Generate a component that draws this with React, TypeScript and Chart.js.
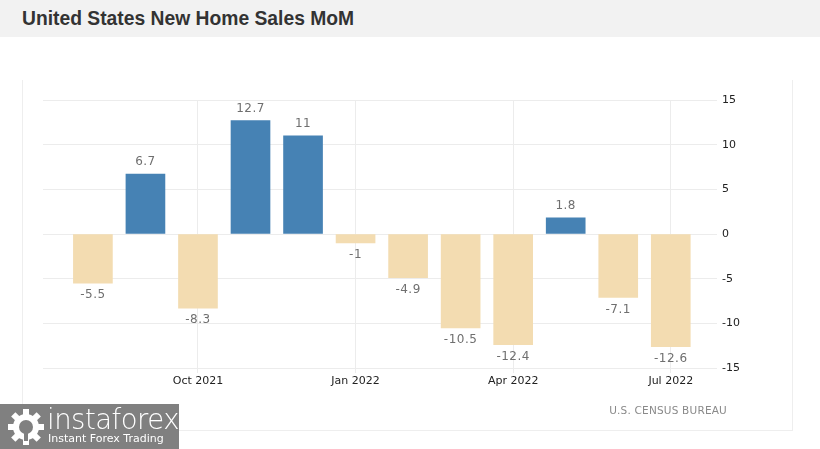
import React, { useEffect, useRef } from "react";
import { Chart, registerables } from "chart.js";
Chart.register(...registerables);

const months = ["Aug 2021", "Sep 2021", "Oct 2021", "Nov 2021", "Dec 2021", "Jan 2022", "Feb 2022", "Mar 2022", "Apr 2022", "May 2022", "Jun 2022", "Jul 2022"];
const values = [-5.5, 6.7, -8.3, 12.7, 11, -1, -4.9, -10.5, -12.4, 1.8, -7.1, -12.6];
const xTickLabels = ["Oct 2021", "Jan 2022", "Apr 2022", "Jul 2022"];
const yMin = -15;
const yMax = 15;
const yStep = 5;

const POS = "#4682B4";
const NEG = "#F3DCB1";

const valueLabels = {
  id: "valueLabels",
  afterDatasetsDraw(chart: any) {
    const ctx = chart.ctx;
    const meta = chart.getDatasetMeta(0);
    ctx.save();
    ctx.font = "12px 'DejaVu Sans'";
    ctx.fillStyle = "#6f6f6f";
    ctx.textAlign = "center";
    ctx.textBaseline = "middle";
    try { (ctx as any).letterSpacing = "0.5px"; } catch (e) {}
    meta.data.forEach((bar: any, i: number) => {
      const v = values[i];
      const y = v >= 0 ? bar.y - 12 : bar.y + 12;
      ctx.fillText(String(v), bar.x, y);
    });
    ctx.restore();
  },
};

function Gear() {
  const teeth = [];
  for (let i = 0; i < 8; i++) {
    teeth.push(<rect key={i} x={17} y={2} width={6} height={8} fill="#fff" transform={`rotate(${i * 45} 20 20)`} />);
  }
  return (
    <svg width={40} height={40} viewBox="0 0 40 40">
      {teeth}
      <circle cx={20} cy={20} r={13} fill="#fff" />
      <circle cx={20} cy={20} r={7} fill="#808080" />
      <rect x={18} y={20} width={4} height={14} fill="#808080" />
    </svg>
  );
}

export default function App() {
  const ref = useRef<HTMLCanvasElement>(null);
  useEffect(() => {
    document.body.style.margin = "0";
    const chart = new Chart(ref.current!, {
      type: "bar",
      data: {
        datasets: [
          {
            data: values.map((v, i) => ({ x: i, y: v })),
            backgroundColor: values.map((v) => (v >= 0 ? POS : NEG)),
            barThickness: 39,
          } as any,
        ],
      },
      options: {
        responsive: false,
        animation: false,
        devicePixelRatio: 1,
        layout: { padding: { left: 43, top: 100, right: 63, bottom: 61 } },
        plugins: { legend: { display: false }, tooltip: { enabled: false } },
        scales: {
          x: {
            type: "linear",
            min: -0.95,
            max: 11.88,
            offset: false,
            afterBuildTicks: (axis: any) => {
              axis.ticks = xTickLabels.map((l) => ({ value: months.indexOf(l) }));
            },
            afterFit: (axis: any) => {
              axis.height = 20;
            },
            grid: { color: "#ececec", tickLength: 5, drawTicks: true, offset: false },
            border: { display: false },
            ticks: {
              autoSkip: false,
              maxRotation: 0,
              padding: 2,
              color: "#222",
              font: { family: "'DejaVu Sans'", size: 11 },
              callback: (v: any) => months[Number(v)],
            },
          },
          y: {
            position: "right",
            min: yMin,
            max: yMax,
            afterFit: (axis: any) => {
              axis.width = 40;
            },
            grid: { color: "#ececec", drawTicks: false },
            border: { display: false },
            ticks: {
              stepSize: yStep,
              padding: 5,
              color: "#222",
              font: { family: "'DejaVu Sans'", size: 11 },
            },
          },
        },
      },
      plugins: [valueLabels],
    } as any);
    return () => chart.destroy();
  }, []);

  return (
    <div style={{ position: "relative", width: 820, height: 449, background: "#fff", overflow: "hidden", fontFamily: "'Liberation Sans', Arial, sans-serif" }}>
      <div style={{ position: "absolute", left: 0, top: 0, width: 820, height: 37, background: "#f2f2f2" }} />
      <div style={{ position: "absolute", left: 22, top: 6, fontSize: 19.3, fontWeight: "bold", color: "#333", lineHeight: "26px" }}>
        United States New Home Sales MoM
      </div>
      <div style={{ position: "absolute", left: 22, top: 80, width: 771, height: 351, borderLeft: "1px solid #eee", borderRight: "1px solid #eee", borderBottom: "1px solid #eee", boxSizing: "border-box" }} />
      <canvas ref={ref} width={820} height={449} style={{ position: "absolute", left: 0, top: 0 }} />
      <div style={{ position: "absolute", right: 820 - 727, top: 404, fontFamily: "'DejaVu Sans'", fontSize: 10.5, color: "#8a8a8a", letterSpacing: 0.2, whiteSpace: "nowrap" }}>
        U.S. CENSUS BUREAU
      </div>
      <div style={{ position: "absolute", left: 0, top: 404, width: 179, height: 45, background: "#808080" }}>
        <div style={{ position: "absolute", left: 6, top: 3 }}>
          <Gear />
        </div>
        <div style={{ position: "absolute", left: 47, top: -2, fontFamily: "'DejaVu Sans'", fontWeight: 300, fontSize: 27.5, color: "#fff", lineHeight: "34px", whiteSpace: "nowrap", letterSpacing: -0.5 }}>
          instaforex
        </div>
        <div style={{ position: "absolute", left: 48, top: 28, fontFamily: "'DejaVu Sans'", fontSize: 11, color: "#fff", whiteSpace: "nowrap" }}>
          Instant Forex Trading
        </div>
      </div>
    </div>
  );
}
